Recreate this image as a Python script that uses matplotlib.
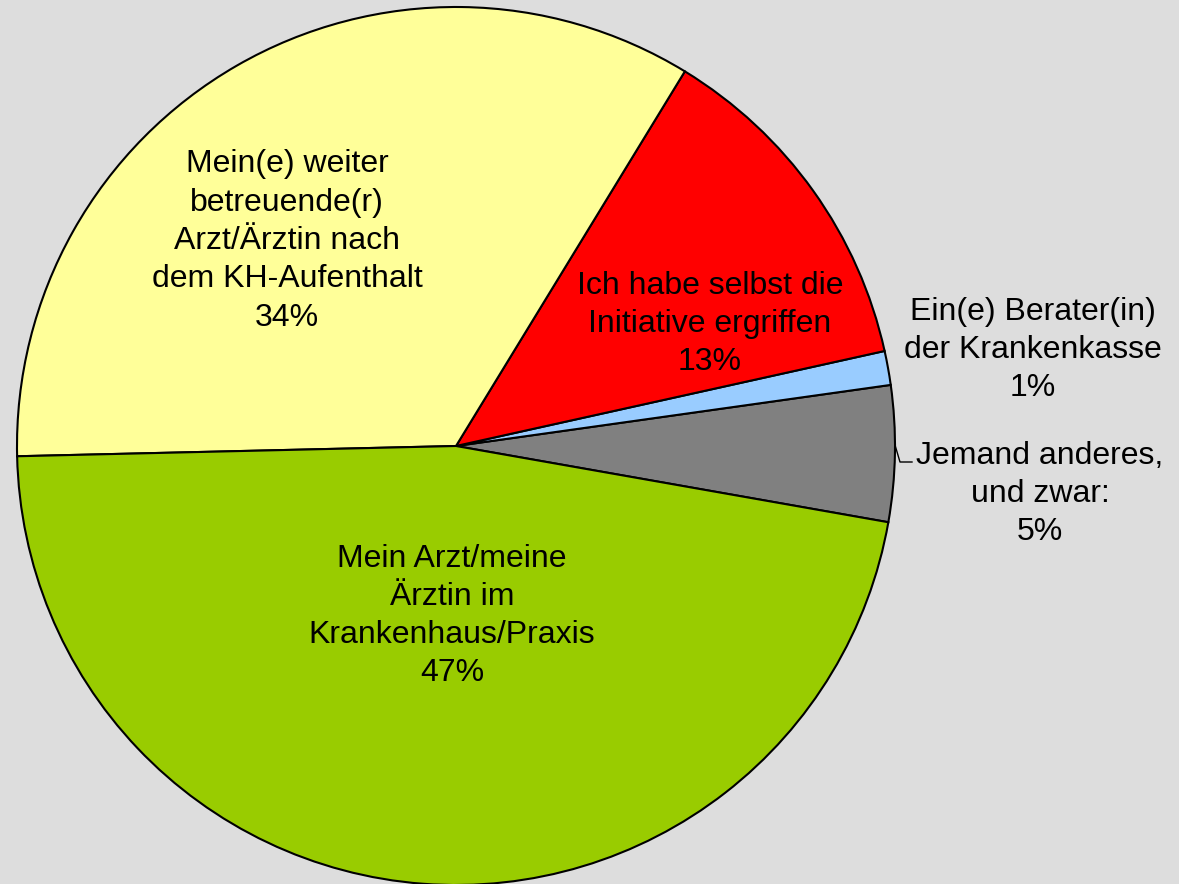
import matplotlib.pyplot as plt

# Daten (gegen den Uhrzeigersinn, ab ca. -10°)
labels = [
    "Jemand anderes,\nund zwar:",
    "Ein(e) Berater(in)\nder Krankenkasse",
    "Ich habe selbst die\nInitiative ergriffen",
    "Mein(e) weiter\nbetreuende(r)\nArzt/Ärztin nach\ndem KH-Aufenthalt",
    "Mein Arzt/meine\nÄrztin im\nKrankenhaus/Praxis",
]
werte = [5.0, 1.25, 12.8, 34.1, 46.85]
prozent = ["5%", "1%", "13%", "34%", "47%"]
farben = ["#808080", "#99CCFF", "#FF0000", "#FFFF99", "#99CC00"]

# Textpositionen in Pixeln (x, y von oben)
text_pos = [(1040, 494), (1033, 350), (710, 324), (287, 241), (452, 616)]

W, H = 1179, 884
fig = plt.figure(figsize=(W / 100, H / 100), dpi=100)
fig.patch.set_facecolor("#DDDDDD")
ax = fig.add_axes([0, 0, 1, 1])
ax.set_facecolor("#DDDDDD")

cx, cy, r = 456, H - 446, 439
ax.pie(werte, colors=farben, startangle=-10, counterclock=True,
       center=(cx, cy), radius=r,
       wedgeprops=dict(edgecolor="black", linewidth=1.5))

for lab, p, (x, y) in zip(labels, prozent, text_pos):
    ax.text(x, H - y, lab + "\n" + p, ha="center", va="center",
            fontsize=23, family="Liberation Sans", linespacing=1.36)

# Führungslinie für "Jemand anderes"
ax.plot([895, 900, 912], [H - 445, H - 462, H - 462], color="black", lw=1)

ax.set_xlim(0, W)
ax.set_ylim(0, H)
ax.set_aspect("equal")
ax.axis("off")

fig.savefig("out.png", dpi=100, facecolor=fig.get_facecolor())
